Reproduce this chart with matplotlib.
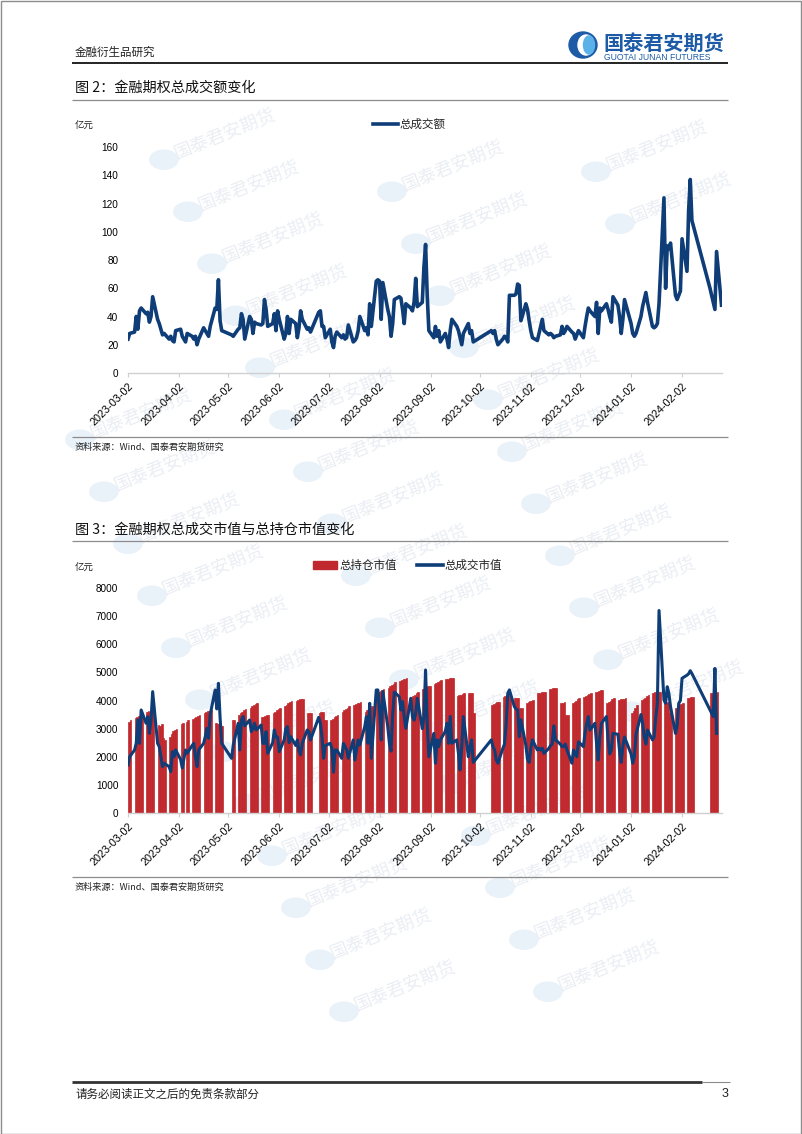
import matplotlib
matplotlib.use("Agg")
import matplotlib.pyplot as plt
import pandas as pd
import numpy as np
from matplotlib.lines import Line2D
from matplotlib.patches import Rectangle, Ellipse

plt.rcParams['font.family'] = ['Noto Sans CJK SC', 'DejaVu Sans']

# ---------------- data ----------------
holidays = ['2023-04-05', '2023-05-01', '2023-05-02', '2023-05-03', '2023-06-22', '2023-06-23',
            '2023-09-29', '2023-10-02', '2023-10-03', '2023-10-04', '2023-10-05', '2023-10-06',
            '2024-01-01', '2024-02-09', '2024-02-12', '2024-02-13', '2024-02-14', '2024-02-15',
            '2024-02-16']
start_date = '2023-03-02'
end_date_1 = '2024-02-26'
end_date_2 = '2024-02-23'

# 图2 总成交额 (亿元), one value per trading day
amount = [
    24, 28, 29, 40, 31, 44, 46, 42, 43, 36, 40, 54, 38, 35, 31, 27, 28, 24, 26, 23, 22, 30,   # Mar
    31, 26, 22, 28, 26, 24, 26, 20, 24, 32, 30, 28, 26, 33, 46, 45, 66, 37, 30,               # Apr
    27, 26, 31, 32, 42, 38, 24, 40, 38, 28, 36, 35, 34, 35, 52, 45, 33, 35, 42, 30,           # May
    44, 38, 24, 28, 40, 28, 38, 35, 25, 32, 44, 38, 31, 32, 29, 43, 44, 33, 33, 25,           # Jun
    31, 22, 18, 26, 29, 25, 27, 24, 25, 34, 22, 23, 25, 30, 40, 30, 32, 27, 49, 33, 65,       # Jul
    66, 65, 38, 64, 45, 40, 26, 35, 52, 54, 53, 45, 35, 49, 46, 44, 50, 67, 47, 50, 75, 91, 55,  # Aug
    30, 25, 33, 26, 30, 22, 28, 24, 18, 30, 38, 33, 30, 25, 20, 28, 35, 28, 30, 22,           # Sep
    30, 28, 30, 24, 20, 24, 26, 25, 22, 55, 55, 56, 63, 62, 37, 49, 45,                       # Oct
    37, 30, 25, 23, 28, 33, 38, 30, 27, 28, 27, 25, 26, 27, 33, 28, 30, 33, 29, 28, 24, 27,   # Nov
    30, 25, 33, 40, 46, 44, 40, 50, 28, 46, 44, 49, 45, 40, 36, 54, 48, 40, 28, 38, 52,       # Dec
    35, 28, 26, 28, 40, 47, 52, 57, 50, 33, 32, 33, 35, 49, 124, 60, 90, 88, 92, 55, 52, 55,  # Jan
    58, 95, 72, 115, 137, 108, 60, 55, 50, 45, 86, 48,                                         # Feb
]

# 图3 总成交市值 (亿元)
turnover_value = [
    1708, 2000, 2241, 2478, 3308, 2478, 3663, 3189, 3426, 2833, 3300, 4315, 2478, 2360, 2000, 1650, 1767, 1650, 1471, 2182, 2000, 2241,
    1900, 1600, 2241, 2123, 2400, 2478, 2004, 1650, 2241, 2478, 2715, 3011, 2656, 3500, 4374, 3700, 4611, 3400, 2478,
    1945, 2400, 3189, 2241, 3308, 3426, 3100, 3308, 2893, 3000, 3189, 2952, 3130, 2478, 2478, 2893, 2123, 2500, 2952, 2700,
    2700, 2182, 2600, 3000, 3071, 2500, 2715, 2400, 2596, 2200, 2064, 2478, 2952, 2900, 2596, 3400, 3189, 2700, 1945, 2400,
    2478, 2300, 1450, 2241, 2241, 1945, 2478, 2360, 2241, 1945, 2600, 1886, 2241, 2596, 2418, 3071, 3426, 2478, 3900, 1945, 4374,
    4374, 3663, 2596, 4315, 3071, 2478, 2200, 3500, 4300, 4137, 3663, 3960, 3426, 3011, 4078, 3426, 3300, 3545, 4078, 3000, 3426, 5085, 3190,
    2000, 2830, 1770, 2600, 2360, 2600, 2900, 3190, 2480, 3430, 2480, 2600, 2120, 1530, 2360, 3430, 2000, 2360, 2600, 1800,
    2600, 2360, 2240, 1885, 1770, 2300, 2450, 3150, 4256, 4375, 3780, 3700, 3660, 2715, 3310, 2400, 1900,
    1800, 2300, 2600, 2240, 2300, 2240, 2300, 2120, 2300, 2400, 2450, 3100, 2600, 2450, 2360, 2360, 2450, 2240, 1770, 2240, 2120, 2000,
    2530, 2360, 2850, 3190, 3430, 2950, 3190, 2480, 1885, 2700, 3190, 3430, 2600, 2100, 2240, 2830, 2800, 2200, 1800, 2360, 2700,
    2100, 1770, 2000, 2800, 3500, 3200, 2700, 2450, 2950, 2600, 2700, 3400, 3900, 7200, 4020, 3900, 4490, 4250, 3780, 2830, 3100, 3900,
    4000, 4790, 4900, 4950, 5060, 4960, 3670, 3550, 3430, 5140, 2830,
]

# 图3 总持仓市值 (亿元)
holding_value = [
    3250, 3300, 3370, 3400, 3450, 3500, 3550, 3600, 3620, 3600, 3580, 3600, 3130, 3100, 3150, 2650, 2600, 2700, 2800, 2900, 2950, 3000,
    3150, 3200, 3250, 3300, 3350, 3380, 3420, 3450, 3480, 3550, 3600, 3620, 3640, 3650, 3200, 3180, 3150, 3100, 3100,
    3300, 3320, 3500, 3550, 3600, 3650, 3700, 3750, 3800, 3850, 3880, 3900, 3400, 3420, 3450, 3480, 3500, 3550, 3600, 3650,
    3700, 3750, 3800, 3850, 3900, 3950, 4000, 4000, 4020, 4040, 4050, 4060, 3550, 3550, 3560, 3560, 3580, 3600, 3300, 3320,
    3300, 3350, 3400, 3450, 3500, 3600, 3650, 3700, 3750, 3800, 3850, 3880, 3900, 3920, 3950, 3600, 3650, 3700, 3750, 3800, 4100,
    4300, 4350, 4380, 4400, 4450, 4500, 4550, 4600, 4650, 4700, 4720, 4750, 4780, 4800, 4100, 4150, 4200, 4250, 4300, 4400, 4450, 4480, 4500,
    4500, 4600, 4620, 4650, 4700, 4730, 4750, 4770, 4790, 4800, 4800, 4150, 4180, 4200, 4230, 4260, 4250, 4260, 4270, 3550,
    3850, 3880, 3900, 3930, 3960, 4130, 4170, 4200, 4230, 4260, 4080, 4100, 4100, 3720, 3750, 3900, 3950,
    3980, 4000, 4020, 4260, 4280, 4300, 4310, 4320, 4400, 4420, 4430, 4430, 4440, 3900, 3920, 3950, 3480, 3500, 3900, 3950, 4000, 4050,
    4080, 4130, 4160, 4200, 4230, 4250, 4300, 4320, 4340, 4360, 4370, 3900, 3950, 4000, 4050, 4080, 4020, 4040, 4060, 4070, 4080,
    3540, 3640, 3740, 3840, 4020, 4060, 4100, 4150, 4200, 4280, 4290, 4300, 4310, 4310, 3900, 3920, 3940, 3540, 3560, 3720, 3780, 3840,
    3880, 3900, 4080, 4100, 4120, 4140, 4250, 4260, 4270, 4280, 4290,
]

tick_dates = ['2023-03-02', '2023-04-02', '2023-05-02', '2023-06-02', '2023-07-02', '2023-08-02',
              '2023-09-02', '2023-10-02', '2023-11-02', '2023-12-02', '2024-01-02', '2024-02-02']

dates1 = pd.bdate_range(start_date, end_date_1, freq='C', holidays=holidays)
dates2 = pd.bdate_range(start_date, end_date_2, freq='C', holidays=holidays)
assert len(dates1) == len(amount), (len(dates1), len(amount))
assert len(dates2) == len(turnover_value) == len(holding_value)

# ---------------- styles ----------------
W, H = 802, 1134
NAVY = '#0E3D77'
RED = '#C0282D'
BLUE_LOGO = '#1D5BA6'
NUM_FONT = ['Liberation Sans', 'DejaVu Sans']

fig = plt.figure(figsize=(W / 100, H / 100), dpi=100)


def fx(px):
    return px / W


def fy(py):
    return 1 - py / H


def hline(y, x0, x1, color, lw):
    fig.add_artist(Line2D([fx(x0), fx(x1)], [fy(y), fy(y)], color=color, lw=lw,
                          transform=fig.transFigure, solid_capstyle='butt'))


# faint background watermarks
def watermark(cx, cy):
    ang = 22
    fig.text(fx(cx), fy(cy), '国泰君安期货', fontsize=13, color='#EAEEF4', rotation=ang,
             ha='center', va='center', zorder=-5)
    c, s = np.cos(np.radians(ang)), np.sin(np.radians(ang))
    lx, ly = cx - 66 * c, cy + 66 * s
    fig.add_artist(Ellipse((fx(lx), fy(ly)), 28 / W, 19 / H, color='#E9F1F9',
                           transform=fig.transFigure, zorder=-6))


for i in range(-1, 4):
    for j in range(-4, 22):
        cx = 225 + 228 * i + 24 * j
        cy = 135 + 32 * i + 52 * j
        if 140 < cx < 700 and 120 < cy < 1000:
            watermark(cx, cy)

# page frame
fig.add_artist(Rectangle((0.5 / W, 0.5 / H), 1 - 1.5 / W, 1 - 1.5 / H, fill=False,
                         edgecolor='#8C8C8C', lw=1.0, transform=fig.transFigure))

# header
fig.text(fx(75), fy(52), '金融衍生品研究', fontsize=8.3, va='center', ha='left', color='#222222')
hline(63, 72, 728, '#111111', 1.3)
fig.add_artist(Ellipse((fx(583), fy(45)), 28 / W, 26 / H, color=BLUE_LOGO, transform=fig.transFigure))
fig.add_artist(Ellipse((fx(586), fy(45)), 16 / W, 20 / H, color='#FFFFFF', transform=fig.transFigure))
fig.add_artist(Ellipse((fx(589), fy(45)), 11 / W, 18 / H, color='#5AB2E8', transform=fig.transFigure))
fig.text(fx(603), fy(43), '国泰君安期货', fontsize=14.5, color=BLUE_LOGO, fontweight='bold',
         va='center', ha='left')
fig.text(fx(604), fy(58), 'GUOTAI JUNAN FUTURES', fontsize=6.2, color=BLUE_LOGO,
         va='center', ha='left', family=NUM_FONT)

# ---------------- chart titles ----------------
fig.text(fx(75), fy(88), '图 2：金融期权总成交额变化', fontsize=10.2, va='center', ha='left', color='#111111')
hline(100, 72, 728, '#8C8C8C', 0.9)
fig.text(fx(75), fy(530), '图 3：金融期权总成交市值与总持仓市值变化', fontsize=10.2, va='center', ha='left',
         color='#111111')
hline(541, 72, 728, '#8C8C8C', 0.9)

xmin = pd.Timestamp(start_date)
xmax = pd.Timestamp(end_date_1)
ticks = [pd.Timestamp(t) for t in tick_dates]


def style_axes(ax, ymax, ystep):
    ax.set_facecolor('none')
    ax.set_xlim(xmin, xmax)
    ax.set_ylim(0, ymax)
    ax.set_yticks(np.arange(0, ymax + 1, ystep))
    ax.set_yticklabels([str(int(v)) for v in np.arange(0, ymax + 1, ystep)], family=NUM_FONT, fontsize=7.2)
    ax.set_xticks(ticks)
    ax.set_xticklabels(tick_dates, rotation=45, ha='right', rotation_mode='anchor',
                       family=NUM_FONT, fontsize=7.8)
    for s in ['top', 'right', 'left']:
        ax.spines[s].set_visible(False)
    ax.spines['bottom'].set_color('#D0D0D0')
    ax.spines['bottom'].set_linewidth(1.0)
    ax.tick_params(axis='y', length=0, pad=7)
    ax.tick_params(axis='x', length=3, color='#D0D0D0', pad=3)


# ---------------- chart 1 ----------------
ax1 = fig.add_axes([fx(128), fy(373), fx(721.5) - fx(128), (373 - 147) / H])
style_axes(ax1, 160, 20)
ax1.plot(dates1, amount, color=NAVY, lw=2.6, solid_joinstyle='round', zorder=3)
fig.text(fx(75), fy(126), '亿元', fontsize=6.8, va='center', ha='left', color='#222222')
fig.add_artist(Line2D([fx(373), fx(398)], [fy(124), fy(124)], color=NAVY, lw=2.6,
                      transform=fig.transFigure))
fig.text(fx(400), fy(124), '总成交额', fontsize=8.3, va='center', ha='left', color='#222222')

hline(437, 72, 728, '#8C8C8C', 0.9)
fig.text(fx(75), fy(447), '资料来源：Wind、国泰君安期货研究', fontsize=6.6, va='center', ha='left', color='#222222')

# ---------------- chart 2 ----------------
ax2 = fig.add_axes([fx(128), fy(813), fx(721.5) - fx(128), (813 - 588) / H])
style_axes(ax2, 8000, 1000)
ax2.bar(dates2, holding_value, width=1.0, align='edge', color=RED, edgecolor=RED,
        linewidth=0.5, zorder=2)
ax2.plot(dates2, turnover_value, color=NAVY, lw=2.2, solid_joinstyle='round', zorder=3)
fig.text(fx(75), fy(568), '亿元', fontsize=6.8, va='center', ha='left', color='#222222')
fig.add_artist(Rectangle((fx(313), fy(569)), 24 / W, 8 / H, color=RED, transform=fig.transFigure))
fig.text(fx(340), fy(565), '总持仓市值', fontsize=8.3, va='center', ha='left', color='#222222')
fig.add_artist(Line2D([fx(417), fx(443)], [fy(565), fy(565)], color=NAVY, lw=2.6,
                      transform=fig.transFigure))
fig.text(fx(445), fy(565), '总成交市值', fontsize=8.3, va='center', ha='left', color='#222222')

hline(877, 72, 728, '#8C8C8C', 0.9)
fig.text(fx(75), fy(887), '资料来源：Wind、国泰君安期货研究', fontsize=6.6, va='center', ha='left', color='#222222')

# ---------------- footer ----------------
hline(1082, 72, 702, '#333333', 2.0)
hline(1082, 702, 730, '#8C8C8C', 0.8)
fig.text(fx(75), fy(1094), '请务必阅读正文之后的免责条款部分', fontsize=8.3, va='center', ha='left', color='#222222')
fig.text(fx(728), fy(1094), '3', fontsize=9, va='center', ha='right', color='#222222', family=NUM_FONT)

fig.savefig('out.png', dpi=100)
